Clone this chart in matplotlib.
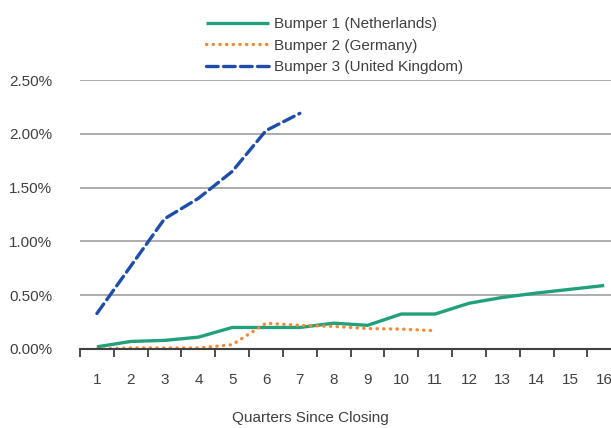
import matplotlib.pyplot as plt
import matplotlib.ticker as mticker

plt.rcParams['font.family'] = ['Liberation Sans', 'DejaVu Sans']

# Cumulative loss rate (%) by quarter since closing
quarters = list(range(1, 17))
nl_quarters = quarters
nl_values = [0.02, 0.07, 0.08, 0.11, 0.20, 0.20, 0.20, 0.24,
             0.22, 0.325, 0.325, 0.425, 0.48, 0.52, 0.555, 0.59]
de_quarters = quarters[:11]
de_values = [0.00, 0.01, 0.01, 0.01, 0.04, 0.24, 0.22, 0.21, 0.19, 0.185, 0.17]
uk_quarters = quarters[:7]
uk_values = [0.33, 0.77, 1.21, 1.40, 1.65, 2.03, 2.19]

series_labels = ["Bumper 1 (Netherlands)", "Bumper 2 (Germany)",
                 "Bumper 3 (United Kingdom)"]
y_ticks = [0.0, 0.5, 1.0, 1.5, 2.0, 2.5]

TEXT = '#404040'

fig = plt.figure(figsize=(6.11, 4.28), dpi=100)
ax = fig.add_axes([80 / 611, 79 / 428, 531 / 611, 269 / 428])

h1, = ax.plot(nl_quarters, nl_values, color='#22A07C', lw=2.4,
              solid_capstyle='butt', label=series_labels[0])
h2, = ax.plot(de_quarters, de_values, color='#F58A33', lw=2.4,
              linestyle=(0, (0.1, 1.9)), dash_capstyle='round',
              label=series_labels[1])
h3, = ax.plot(uk_quarters, uk_values, color='#1F4EA8', lw=2.4,
              linestyle=(0, (3.5, 1.6)), dash_capstyle='round',
              label=series_labels[2])

ax.set_xlim(0.5, 16.2)
ax.set_ylim(0, 2.5)
ax.set_yticks(y_ticks)
ax.yaxis.set_major_formatter(mticker.FuncFormatter(lambda v, _: f"{v:.2f}%"))
ax.grid(axis='y', color='#A6A6A6', lw=1.3)
ax.set_axisbelow(True)

# category labels at centres, tick marks on the boundaries
ax.set_xticks(quarters)
ax.set_xticklabels([str(q) for q in quarters])
ax.set_xticks([q + 0.5 for q in range(0, 16)], minor=True)
ax.tick_params(axis='x', which='major', length=0, pad=17, labelsize=11,
               labelcolor=TEXT)
ax.tick_params(axis='x', which='minor', length=6, width=1.3, color='#404040',
               direction='out')
ax.tick_params(axis='y', length=0, pad=20, labelsize=11, labelcolor=TEXT)

for side in ['top', 'right', 'left']:
    ax.spines[side].set_visible(False)
ax.spines['bottom'].set_color('#404040')
ax.spines['bottom'].set_linewidth(1.5)

ax.set_xlabel("Quarters Since Closing", fontsize=11, color=TEXT)
ax.xaxis.set_label_coords((310 - 80) / 531, -0.23)

fig.legend(handles=[h1, h2, h3], loc='upper left',
           bbox_to_anchor=(206 / 611, 1 - 17 / 428), frameon=False,
           fontsize=11, labelcolor=TEXT, handlelength=4.1, handletextpad=0.35,
           labelspacing=0.5, borderaxespad=0, borderpad=0)

fig.savefig('out.png', dpi=100)
